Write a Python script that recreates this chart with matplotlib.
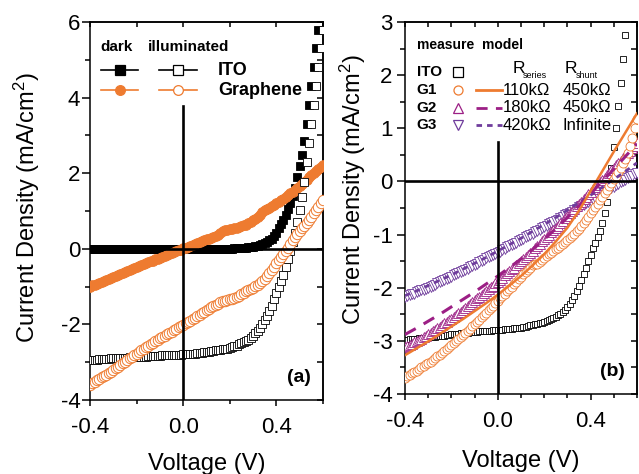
import numpy as np
import matplotlib
matplotlib.use("Agg")
import matplotlib.pyplot as plt
from matplotlib.ticker import MultipleLocator, FormatStrFormatter

plt.rcParams["font.family"] = "Liberation Sans"
plt.rcParams["mathtext.fontset"] = "custom"
plt.rcParams["mathtext.rm"] = "Liberation Sans"
plt.rcParams["mathtext.it"] = "Liberation Sans:italic"
plt.rcParams["mathtext.bf"] = "Liberation Sans:bold"
plt.rcParams["axes.unicode_minus"] = False

# voltage sweep of the measurements (10 mV steps) and of the model curves
voltage = np.round(np.arange(-40, 61) / 100, 2)
voltage_fit = np.round(np.arange(-8, 13) * 0.05, 2)

# ---- (a) J-V in the dark and under illumination (mA/cm^2)
ito_dark = [0.00] * 60 + [
    0.00, 0.00, 0.01, 0.01, 0.01, 0.02, 0.02, 0.03, 0.04, 0.05,
    0.06, 0.07, 0.08, 0.10, 0.12, 0.15, 0.18, 0.22, 0.27, 0.33,
    0.42, 0.55, 0.66, 0.77, 0.90, 1.05, 1.20, 1.40, 1.62, 1.90,
    2.18, 2.48, 2.85, 3.30, 3.80, 4.30, 4.80, 5.30, 5.80, 6.30,
    6.80]
ito_light = [
    -2.94, -2.94, -2.93, -2.93, -2.92, -2.92, -2.92, -2.91, -2.91, -2.90,
    -2.90, -2.90, -2.89, -2.89, -2.88, -2.88, -2.88, -2.87, -2.87, -2.86,
    -2.86, -2.86, -2.85, -2.85, -2.85, -2.84, -2.84, -2.84, -2.83, -2.83,
    -2.83, -2.82, -2.82, -2.82, -2.81, -2.81, -2.81, -2.80, -2.80, -2.80,
    -2.79, -2.79, -2.78, -2.78, -2.77, -2.77, -2.76, -2.76, -2.75, -2.74,
    -2.73, -2.72, -2.71, -2.70, -2.69, -2.68, -2.67, -2.66, -2.65, -2.64,
    -2.62, -2.60, -2.58, -2.56, -2.53, -2.50, -2.47, -2.44, -2.40, -2.35,
    -2.30, -2.24, -2.17, -2.09, -2.00, -1.89, -1.77, -1.64, -1.50, -1.34,
    -1.18, -1.02, -0.86, -0.69, -0.48, -0.27, -0.05, 0.18, 0.42, 0.70,
    1.03, 1.38, 1.78, 2.30, 2.80, 3.30, 3.80, 4.30, 4.80, 5.30,
    5.80]
gr_dark = [
    -1.00, -0.97, -0.95, -0.92, -0.90, -0.87, -0.85, -0.82, -0.79, -0.77,
    -0.74, -0.72, -0.69, -0.67, -0.64, -0.61, -0.59, -0.56, -0.54, -0.51,
    -0.49, -0.46, -0.44, -0.41, -0.38, -0.36, -0.33, -0.31, -0.28, -0.26,
    -0.24, -0.21, -0.19, -0.16, -0.14, -0.11, -0.09, -0.06, -0.04, -0.02,
    0.01, 0.03, 0.06, 0.08, 0.11, 0.13, 0.16, 0.18, 0.20, 0.23,
    0.25, 0.27, 0.29, 0.32, 0.34, 0.37, 0.41, 0.46, 0.50, 0.51,
    0.52, 0.53, 0.55, 0.56, 0.58, 0.60, 0.62, 0.64, 0.67, 0.71,
    0.75, 0.79, 0.84, 0.90, 0.97, 1.02, 1.06, 1.09, 1.13, 1.17,
    1.21, 1.25, 1.29, 1.33, 1.38, 1.42, 1.47, 1.51, 1.56, 1.61,
    1.66, 1.72, 1.77, 1.83, 1.89, 1.95, 2.00, 2.06, 2.11, 2.17,
    2.22]
gr_light = [
    -3.60, -3.56, -3.52, -3.48, -3.44, -3.40, -3.36, -3.33, -3.29, -3.25,
    -3.21, -3.16, -3.12, -3.07, -3.03, -2.99, -2.94, -2.90, -2.86, -2.81,
    -2.77, -2.72, -2.68, -2.64, -2.59, -2.56, -2.52, -2.48, -2.44, -2.41,
    -2.37, -2.33, -2.30, -2.26, -2.23, -2.19, -2.15, -2.12, -2.08, -2.05,
    -2.01, -1.97, -1.93, -1.90, -1.86, -1.82, -1.78, -1.74, -1.70, -1.66,
    -1.62, -1.58, -1.55, -1.52, -1.48, -1.45, -1.42, -1.39, -1.37, -1.35,
    -1.34, -1.33, -1.31, -1.28, -1.24, -1.20, -1.16, -1.12, -1.09, -1.06,
    -1.03, -0.99, -0.95, -0.90, -0.85, -0.79, -0.71, -0.63, -0.55, -0.47,
    -0.38, -0.30, -0.22, -0.14, -0.06, 0.03, 0.13, 0.22, 0.31, 0.39,
    0.46, 0.54, 0.61, 0.69, 0.77, 0.85, 0.94, 1.02, 1.11, 1.20,
    1.29]

# ---- (b) illuminated cells and single-diode model fits
ito_meas = [
    -2.98, -2.98, -2.97, -2.97, -2.96, -2.96, -2.95, -2.95, -2.94, -2.94,
    -2.93, -2.93, -2.92, -2.92, -2.91, -2.91, -2.90, -2.90, -2.89, -2.89,
    -2.88, -2.88, -2.87, -2.87, -2.86, -2.86, -2.85, -2.85, -2.84, -2.84,
    -2.83, -2.83, -2.82, -2.82, -2.82, -2.81, -2.81, -2.81, -2.80, -2.80,
    -2.80, -2.79, -2.79, -2.78, -2.78, -2.77, -2.77, -2.76, -2.76, -2.75,
    -2.75, -2.74, -2.73, -2.72, -2.71, -2.70, -2.69, -2.68, -2.67, -2.66,
    -2.65, -2.63, -2.61, -2.59, -2.57, -2.55, -2.52, -2.49, -2.45, -2.41,
    -2.36, -2.30, -2.23, -2.15, -2.06, -1.96, -1.85, -1.74, -1.62, -1.50,
    -1.38, -1.26, -1.15, -1.05, -0.93, -0.78, -0.60, -0.38, -0.10, 0.25,
    0.65, 1.00, 1.41, 1.85, 2.30, 2.76, 3.22, 3.70, 4.20, 4.70,
    5.20]
g1_meas = [
    -3.69, -3.66, -3.64, -3.61, -3.59, -3.56, -3.53, -3.50, -3.47, -3.44,
    -3.42, -3.39, -3.36, -3.33, -3.29, -3.26, -3.22, -3.19, -3.15, -3.11,
    -3.08, -3.04, -3.00, -2.96, -2.92, -2.89, -2.85, -2.81, -2.77, -2.72,
    -2.68, -2.64, -2.60, -2.55, -2.51, -2.47, -2.42, -2.38, -2.34, -2.29,
    -2.25, -2.20, -2.16, -2.11, -2.07, -2.02, -1.98, -1.93, -1.89, -1.84,
    -1.80, -1.75, -1.71, -1.66, -1.62, -1.58, -1.56, -1.55, -1.52, -1.48,
    -1.44, -1.41, -1.37, -1.34, -1.31, -1.28, -1.25, -1.21, -1.18, -1.14,
    -1.10, -1.06, -1.02, -0.98, -0.94, -0.89, -0.84, -0.78, -0.72, -0.66,
    -0.60, -0.54, -0.48, -0.42, -0.35, -0.29, -0.22, -0.16, -0.09, -0.03,
    0.04, 0.11, 0.18, 0.26, 0.34, 0.43, 0.53, 0.66, 0.82, 1.00,
    1.18]
g2_meas = [
    -3.12, -3.10, -3.08, -3.05, -3.03, -3.01, -2.98, -2.96, -2.93, -2.91,
    -2.88, -2.85, -2.82, -2.79, -2.76, -2.73, -2.70, -2.67, -2.64, -2.61,
    -2.58, -2.55, -2.52, -2.48, -2.45, -2.41, -2.38, -2.34, -2.31, -2.27,
    -2.24, -2.20, -2.17, -2.13, -2.10, -2.06, -2.03, -1.99, -1.96, -1.92,
    -1.89, -1.85, -1.81, -1.77, -1.73, -1.69, -1.65, -1.62, -1.58, -1.54,
    -1.50, -1.46, -1.42, -1.38, -1.34, -1.30, -1.25, -1.21, -1.17, -1.13,
    -1.09, -1.05, -1.00, -0.96, -0.91, -0.87, -0.83, -0.78, -0.74, -0.69,
    -0.65, -0.60, -0.56, -0.51, -0.47, -0.42, -0.38, -0.33, -0.29, -0.24,
    -0.20, -0.15, -0.11, -0.06, -0.02, 0.03, 0.07, 0.12, 0.16, 0.21,
    0.25, 0.30, 0.35, 0.39, 0.44, 0.49, 0.53, 0.58, 0.63, 0.67,
    0.72]
g3_meas = [
    -2.18, -2.16, -2.14, -2.12, -2.11, -2.09, -2.07, -2.05, -2.04, -2.02,
    -2.00, -1.98, -1.96, -1.94, -1.92, -1.90, -1.87, -1.85, -1.83, -1.81,
    -1.79, -1.77, -1.75, -1.72, -1.70, -1.68, -1.66, -1.64, -1.61, -1.59,
    -1.57, -1.55, -1.52, -1.50, -1.48, -1.45, -1.43, -1.41, -1.38, -1.36,
    -1.34, -1.32, -1.29, -1.27, -1.24, -1.22, -1.20, -1.17, -1.15, -1.12,
    -1.10, -1.08, -1.05, -1.03, -1.00, -0.98, -0.96, -0.93, -0.91, -0.88,
    -0.86, -0.84, -0.81, -0.79, -0.76, -0.74, -0.72, -0.69, -0.67, -0.64,
    -0.62, -0.59, -0.57, -0.54, -0.51, -0.49, -0.46, -0.44, -0.41, -0.39,
    -0.36, -0.33, -0.31, -0.28, -0.26, -0.23, -0.20, -0.18, -0.15, -0.13,
    -0.10, -0.07, -0.05, -0.02, 0.01, 0.03, 0.06, 0.09, 0.11, 0.14,
    0.16]
g1_fit = [-3.27, -3.14, -3.01, -2.87, -2.73, -2.59, -2.44, -2.29, -2.13, -1.96,
          -1.78, -1.58, -1.37, -1.13, -0.87, -0.55, -0.18, 0.19, 0.56, 0.92, 1.28]
g2_fit = [-2.88, -2.76, -2.63, -2.50, -2.36, -2.22, -2.08, -1.93, -1.78, -1.62,
          -1.46, -1.28, -1.09, -0.89, -0.68, -0.46, -0.23, 0.00, 0.23, 0.47, 0.71]
g3_fit = [-2.15, -2.06, -1.96, -1.86, -1.76, -1.65, -1.54, -1.43, -1.31, -1.19,
          -1.07, -0.94, -0.81, -0.68, -0.54, -0.40, -0.26, -0.11, 0.04, 0.19, 0.35]

samples = ["ITO", "G1", "G2", "G3"]
r_series = ["110k\u03a9", "180k\u03a9", "420k\u03a9"]
r_shunt = ["450k\u03a9", "450k\u03a9", "Infinite"]

ORANGE = "#EE7B30"
MAGENTA = "#9C1F85"
VIOLET = "#6F3C9C"
LW = 1.1


def style_axes(ax, ylim, ymajor, yminor, xminor, ypad):
    ax.set_xlim(-0.4, 0.6)
    ax.set_ylim(*ylim)
    ax.xaxis.set_major_locator(MultipleLocator(0.4))
    ax.xaxis.set_minor_locator(MultipleLocator(xminor))
    ax.yaxis.set_major_locator(MultipleLocator(ymajor))
    ax.yaxis.set_minor_locator(MultipleLocator(yminor))
    ax.xaxis.set_major_formatter(FormatStrFormatter("%.1f"))
    ax.yaxis.set_major_formatter(FormatStrFormatter("%d"))
    ax.tick_params(which="both", direction="out", width=LW, labelsize=16)
    ax.tick_params(axis="x", which="major", length=4.5, pad=8)
    ax.tick_params(axis="x", which="minor", length=3)
    ax.tick_params(axis="y", which="major", length=5.5, pad=ypad)
    ax.tick_params(axis="y", which="minor", length=3.5)
    for sp in ax.spines.values():
        sp.set_linewidth(LW)
    # inward ticks on the top and right frame
    top = ax.secondary_xaxis("top")
    top.xaxis.set_major_locator(MultipleLocator(xminor))
    top.tick_params(direction="in", length=3.5, width=LW, labeltop=False)
    right = ax.secondary_yaxis("right")
    right.yaxis.set_major_locator(MultipleLocator(yminor))
    right.tick_params(direction="in", length=4, width=LW, labelright=False)
    for s in (top, right):
        for sp in s.spines.values():
            sp.set_linewidth(LW)
    ax.axhline(0, color="black", lw=1.9, zorder=6)


fig = plt.figure(figsize=(6.39, 4.74), dpi=100)
ax_a = fig.add_axes([90 / 639, 74 / 474, 233 / 639, 378 / 474])
ax_b = fig.add_axes([405 / 639, 80 / 474, 232 / 639, 372 / 474])

# ---------------- panel (a)
ax_a.plot(voltage, ito_dark, ls="none", marker="s", ms=6, mfc="black",
          mec="black", mew=0.6, zorder=2)
ax_a.plot(voltage, gr_dark, ls="none", marker="o", ms=7, mfc=ORANGE,
          mec=ORANGE, mew=0.6, zorder=3)
ax_a.plot(voltage, ito_light, ls="none", marker="s", ms=5.5, mfc="white",
          mec="black", mew=0.6, zorder=4)
ax_a.plot(voltage, gr_light, ls="none", marker="o", ms=7.5, mfc="white",
          mec=ORANGE, mew=0.7, zorder=4)
style_axes(ax_a, (-4, 6), 2, 1, 0.2, 1.5)
ax_a.axvline(0, ymax=0.778, color="black", lw=1.9, zorder=6)

ax_a.set_xlabel("Voltage (V)", fontsize=17)
ax_a.set_ylabel("Current Density (mA/cm$^2$)", fontsize=17)
ax_a.xaxis.set_label_coords(0.5, -0.14)
ax_a.yaxis.set_label_coords(-0.205, 0.51)

# key for panel (a)
tr = ax_a.transAxes
ax_a.text(0.046, 0.933, "dark", transform=tr, fontsize=11,
          fontweight="bold", va="center")
ax_a.text(0.249, 0.933, "illuminated", transform=tr, fontsize=11,
          fontweight="bold", va="center")
key_rows = [(0.873, "black", "s", "ITO"), (0.820, ORANGE, "o", "Graphene")]
for y, col, mk, name in key_rows:
    for x0, x1, face in ((0.046, 0.208, col), (0.296, 0.459, "white")):
        ax_a.plot([x0, x1], [y, y], transform=tr, color=col, lw=1.2,
                  clip_on=False, zorder=7)
        ax_a.plot([(x0 + x1) / 2], [y], transform=tr, marker=mk,
                  ms=7 if mk == "o" else 6.5, mfc=face, mec=col, mew=0.9,
                  clip_on=False, zorder=8)
    ax_a.text(0.549, y, name, transform=tr, fontsize=13, fontweight="bold",
              va="center")
ax_a.text(0.895, 0.06, "(a)", transform=tr, fontsize=14, fontweight="bold",
          ha="center", va="center")

# ---------------- panel (b)
ax_b.plot(voltage, ito_meas, ls="none", marker="s", ms=5, mfc="white",
          mec="black", mew=0.6, zorder=2)
ax_b.plot(voltage, g3_meas, ls="none", marker="v", ms=6.5, mfc="white",
          mec=VIOLET, mew=0.6, zorder=3)
ax_b.plot(voltage, g2_meas, ls="none", marker="^", ms=6.5, mfc="white",
          mec=MAGENTA, mew=0.6, zorder=3)
ax_b.plot(voltage, g1_meas, ls="none", marker="o", ms=6.5, mfc="white",
          mec=ORANGE, mew=0.6, zorder=4)
ax_b.plot(voltage_fit, g3_fit, color=VIOLET, lw=2, dashes=(2, 1.8), zorder=5)
ax_b.plot(voltage_fit, g2_fit, color=MAGENTA, lw=2.2, dashes=(4, 3), zorder=5)
ax_b.plot(voltage_fit, g1_fit, color=ORANGE, lw=1.8, zorder=5)
style_axes(ax_b, (-4, 3), 1, 0.5, 0.1, 3.5)
ax_b.axvline(0, ymax=0.677, color="black", lw=1.9, zorder=6)

ax_b.set_xlabel("Voltage (V)", fontsize=17)
ax_b.set_ylabel("Current Density (mA/cm$^2$)", fontsize=17)
ax_b.xaxis.set_label_coords(0.5, -0.15)
ax_b.yaxis.set_label_coords(-0.16, 0.55)

# table-like key for panel (b)
tr = ax_b.transAxes
ax_b.text(0.05, 0.938, "measure", transform=tr, fontsize=10,
          fontweight="bold", va="center")
ax_b.text(0.331, 0.938, "model", transform=tr, fontsize=10,
          fontweight="bold", va="center")
for x, sub in ((0.462, "series"), (0.69, "shunt")):
    ax_b.text(x, 0.874, "R", transform=tr, fontsize=12.5, va="center")
    ax_b.text(x + 0.045, 0.855, sub, transform=tr, fontsize=6.5,
              va="center")
row_y = [0.866, 0.817, 0.770, 0.723]
row_style = [("black", "s", None), (ORANGE, "o", "-"),
             (MAGENTA, "^", (4, 3)), (VIOLET, "v", (2, 1.8))]
for i, (name, y, (col, mk, ls)) in enumerate(zip(samples, row_y, row_style)):
    ax_b.text(0.05, y, name, transform=tr, fontsize=11, fontweight="bold",
              va="center")
    ax_b.plot([0.23], [y], transform=tr, marker=mk, ms=6.5, mfc="white",
              mec=col, mew=0.9, clip_on=False, zorder=8)
    if ls is None:
        continue
    kw = {"lw": 2}
    if ls != "-":
        kw["dashes"] = ls
    ax_b.plot([0.306, 0.417], [y, y], transform=tr, color=col,
              clip_on=False, zorder=8, **kw)
    ax_b.text(0.422, y, r_series[i - 1], transform=tr, fontsize=12,
              va="center")
    ax_b.text(0.68, y, r_shunt[i - 1], transform=tr, fontsize=12,
              va="center")
ax_b.text(0.895, 0.06, "(b)", transform=tr, fontsize=14, fontweight="bold",
          ha="center", va="center")

fig.savefig("out.png", dpi=100)
